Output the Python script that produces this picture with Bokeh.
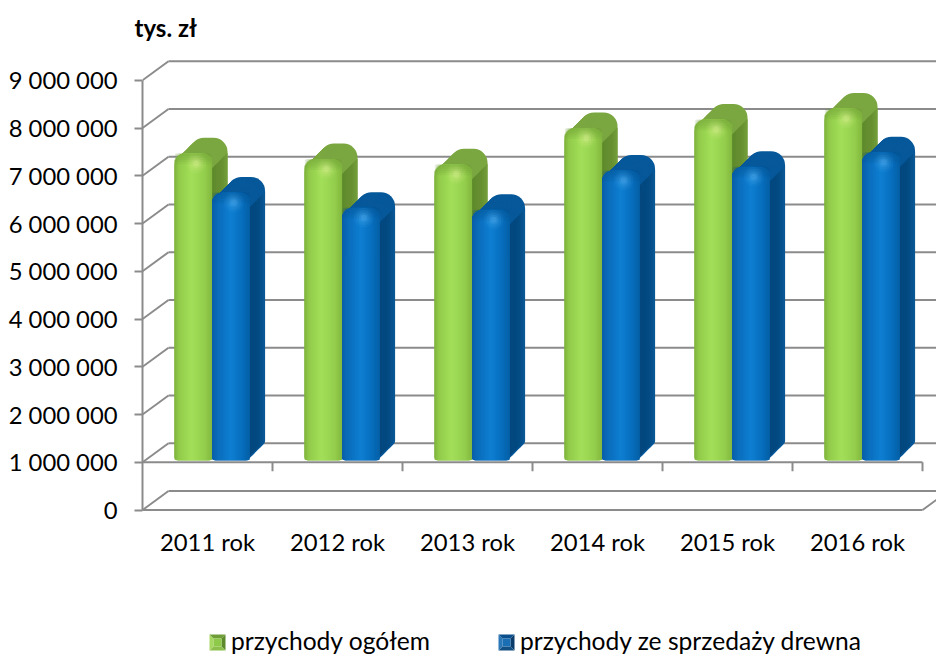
from bokeh.plotting import figure
from bokeh.models import Range1d, FixedTicker, Legend, LegendItem
from bokeh.embed import file_html
from bokeh.resources import INLINE

categories = ["2011 rok", "2012 rok", "2013 rok", "2014 rok", "2015 rok", "2016 rok"]
przychody_ogolem = [7470000, 7350000, 7240000, 8000000, 8180000, 8410000]
przychody_drewno = [6650000, 6330000, 6290000, 7110000, 7190000, 7490000]
y_ticks = [0, 1000000, 2000000, 3000000, 4000000, 5000000, 6000000, 7000000, 8000000, 9000000]
y_labels = ["0", "1 000 000", "2 000 000", "3 000 000", "4 000 000", "5 000 000",
            "6 000 000", "7 000 000", "8 000 000", "9 000 000"]
series_names = ["przychody ogółem", "przychody ze sprzedaży drewna"]
unit_label = "tys. zł"
axis_floor = 1000000

PX_X = 130.0            # px per category
PX_Y = 47.75 / 1e6      # px per value unit
FONT = "Lato"
GRID = "#8b8b8b"
DX, DY = 26 / PX_X, 19 / PX_Y   # wall depth
n_cat = len(categories)
base_value = axis_floor + 2 / PX_Y   # bars stand just above the floor line

W, H = 936, 655
TOP = 45
p = figure(width=W, height=H, output_backend="svg", toolbar_location=None,
           x_range=Range1d(0, (936 - 142) / PX_X),
           y_range=Range1d(-(655 - 509.5) / PX_Y, (509.5 - TOP) / PX_Y),
           min_border_left=142, min_border_right=0, min_border_top=TOP, min_border_bottom=0,
           background_fill_color=None, border_fill_color=None, outline_line_color=None)
p.grid.visible = False

p.title.text = unit_label
p.title.align = "left"
p.title.offset = -8
p.title.standoff = 7
p.title.text_font = FONT
p.title.text_font_style = "bold"
p.title.text_font_size = "24px"
p.title.text_color = "#000000"

ya = p.yaxis[0]
ya.ticker = FixedTicker(ticks=y_ticks)
ya.major_label_overrides = dict(zip(y_ticks, y_labels))
ya.bounds = (0, y_ticks[-1])
ya.axis_line_color = GRID
ya.axis_line_width = 2
ya.major_tick_line_color = GRID
ya.major_tick_line_width = 2
ya.major_tick_in = 0
ya.major_tick_out = 8
ya.minor_tick_line_color = None
ya.major_label_standoff = 17
ya.major_label_text_font = FONT
ya.major_label_text_font_size = "23.8px"
ya.major_label_text_color = "#000000"

xa = p.xaxis[0]
cat_pos = [i + 0.5 for i in range(n_cat)]
xa.ticker = FixedTicker(ticks=cat_pos)
xa.major_label_overrides = dict(zip(cat_pos, categories))
xa.fixed_location = 0
xa.axis_line_color = None
xa.major_tick_line_color = None
xa.minor_tick_line_color = None
xa.major_label_standoff = 12
xa.major_label_text_font = FONT
xa.major_label_text_font_size = "23.8px"
xa.major_label_text_color = "#000000"

# walls / grid
x_end = (936 - 142) / PX_X
p.segment([DX] * len(y_ticks), [v + DY for v in y_ticks], [x_end] * len(y_ticks), [v + DY for v in y_ticks],
          line_color=GRID, line_width=2)
p.segment([0] * len(y_ticks), y_ticks, [DX] * len(y_ticks), [v + DY for v in y_ticks],
          line_color=GRID, line_width=2)
p.segment([0, 0], [0, axis_floor], [n_cat, n_cat], [0, axis_floor], line_color=GRID, line_width=2)
p.segment([n_cat], [0], [n_cat + DX], [DY], line_color=GRID, line_width=2)
tick_x = list(range(1, n_cat + 1))
p.segment(tick_x, [axis_floor] * n_cat, tick_x, [axis_floor - 9 / PX_Y] * n_cat, line_color=GRID, line_width=2)


def hexrgb(c):
    return tuple(int(c[i:i + 2], 16) for i in (1, 3, 5))


def ramp(stops, u):
    for (u0, c0), (u1, c1) in zip(stops, stops[1:]):
        if u <= u1:
            t = (u - u0) / (u1 - u0) if u1 > u0 else 0
            a, b = hexrgb(c0), hexrgb(c1)
            return "#%02x%02x%02x" % tuple(round(a[i] + (b[i] - a[i]) * t) for i in range(3))
    return stops[-1][1]


BAR_W = 37.5
DEPTH = 15.5
R = 11.0
RB = 14.0
STYLES = [
    dict(top="#7ba741", bevel="#6f9e38", spot="#e4f59a",
         front=[(0, "#7fb33c"), (.12, "#92cc4a"), (.45, "#a3df59"), (.8, "#94cf4d"), (1, "#84b83f")],
         side=[(0, "#5f8a2d"), (.6, "#668f31"), (1, "#74a03a")]),
    dict(top="#06589a", bevel="#05548f", spot="#5ab4f2",
         front=[(0, "#0a5ea8"), (.15, "#0a6cba"), (.5, "#0f7fd2"), (.8, "#076ebd"), (1, "#0560a6")],
         side=[(0, "#03477e"), (.6, "#034a82"), (1, "#0a5a98")]),
]
OFFSET = [-BAR_W, 0.0]
legend_items = []

for s, values in enumerate([przychody_ogolem, przychody_drewno]):
    st = STYLES[s]
    # extruded rounded solid, back to front
    lx, lt, lb = [], [], []
    steps = 16
    for k in range(steps, -1, -1):
        t = k / steps * DEPTH
        for c, v in enumerate(values):
            lx.append(c + 0.535 + (OFFSET[s] + BAR_W / 2 + t) / PX_X)
            lt.append(v + t / PX_Y)
            lb.append(base_value + t / PX_Y)
    p.vbar(x=lx, top=lt, bottom=lb, width=BAR_W / PX_X, fill_color=st["top"], line_color=None,
           border_radius=(int(RB), int(RB), 4, 4))

    # side face strips
    xs, ys, cols = [], [], []
    n = 8
    for c, v in enumerate(values):
        xr = (OFFSET[s] + BAR_W) / PX_X + c + 0.535
        for i in range(n):
            a, b = i / n * DEPTH, min((i + 1.3) / n, 1) * DEPTH
            bb = 4.0
            xs.append([xr + a / PX_X, xr + b / PX_X, xr + b / PX_X, xr + a / PX_X])
            ys.append([base_value + (a + bb) / PX_Y, base_value + (b + bb) / PX_Y,
                       v + (b - RB - 1) / PX_Y, v + (a - RB - 1) / PX_Y])
            cols.append(ramp(st["side"], (i + .5) / n))
    p.patches(xs, ys, fill_color=cols, line_color=None)

    # front face: underlying bar plus horizontal gradient strips that follow the rounded top
    front_x = [c + 0.535 + (OFFSET[s] + BAR_W / 2) / PX_X for c in range(n_cat)]
    p.vbar(x=front_x, top=values, bottom=base_value, width=BAR_W / PX_X,
           fill_color=ramp(st["front"], 0), line_color=None, border_radius=(int(R), int(R), 3, 3))
    l, r, t, b, cols = [], [], [], [], []
    n = 38
    for c, v in enumerate(values):
        x0 = c + 0.535 + OFFSET[s] / PX_X
        for i in range(n):
            pa = i / n * BAR_W
            pb = BAR_W if i == n - 1 else (i + 1.8) / n * BAR_W
            mid = (i + 1) / n * BAR_W if i < n / 2 else i / n * BAR_W
            edge = min(mid, BAR_W - mid)
            drop = 0.0
            if edge < R:
                drop = R - (R ** 2 - (R - edge) ** 2) ** .5
            low = 3 - (9 - (3 - edge) ** 2) ** .5 if edge < 3 else 0
            l.append(x0 + pa / PX_X)
            r.append(x0 + pb / PX_X)
            t.append(v - drop / PX_Y)
            b.append(base_value + low / PX_Y)
            cols.append(ramp(st["front"], (i + .5) / n))
    p.quad(left=l, right=r, top=t, bottom=b, fill_color=cols, line_color=None)

    # bevel along the rounded top
    for k in range(1, 6):
        p.vbar(x=front_x, top=values, bottom=[v - 2.2 * k / PX_Y for v in values], width=BAR_W / PX_X,
               fill_color=st["bevel"], fill_alpha=0.13, line_color=None,
               border_radius=(int(R), int(R), 0, 0))
    # highlight
    for size, alpha in [(20, .08), (15, .12), (10, .18), (6, .25)]:
        p.scatter(x=[x + 3 / PX_X for x in front_x], y=[v - 10 / PX_Y for v in values], size=size,
                  marker="circle", fill_color=st["spot"], fill_alpha=alpha, line_color=None)
    # see-through renderer: the legend keeps its label, the bevelled key below shows through
    key_r = p.vbar(x=front_x, top=values, bottom=values, width=BAR_W / PX_X, fill_alpha=0, line_alpha=0)
    legend_items.append(LegendItem(label=series_names[s], renderers=[key_r]))


def dx(px):       # picture x -> data x
    return (px - 142) / PX_X


def dy(py):       # picture y -> data y
    return (509.5 - py) / PX_Y


# bevelled legend keys
BEVELS = [("#a7d862", "#6f9e38", "#5d8a2b", "#8dbf4b", "#8fc94a"),
          ("#2a78b8", "#0b4f8c", "#0c3c6a", "#124f82", "#1a6fb4")]
ICON_X = [209, 498]
ICON_Y = 634
ICON = 16
m = 4
bx, by, bc = [], [], []
for (cl, ct, cr, cb, cc), ix in zip(BEVELS, ICON_X):
    i0, i1, j0, j1 = ix, ix + ICON, ICON_Y, ICON_Y + ICON
    for c, px, py in [
        (cl, [i0, i0 + m, i0 + m, i0], [j0, j0 + m, j1 - m, j1]),
        (ct, [i0, i1, i1 - m, i0 + m], [j0, j0, j0 + m, j0 + m]),
        (cr, [i1, i1, i1 - m, i1 - m], [j0, j1, j1 - m, j0 + m]),
        (cb, [i0, i0 + m, i1 - m, i1], [j1, j1 - m, j1 - m, j1]),
        (cc, [i0 + m, i1 - m, i1 - m, i0 + m], [j0 + m, j0 + m, j1 - m, j1 - m]),
    ]:
        bx.append([dx(a) for a in px])
        by.append([dy(a) for a in py])
        bc.append(c)
p.patches(bx, by, fill_color=bc, line_color=None)

legend = Legend(items=legend_items, orientation="horizontal", location=(209 - 142, 0), margin=0, padding=0,
                spacing=68, label_standoff=6, glyph_width=16, glyph_height=16,
                label_text_font=FONT, label_text_font_size="24.6px", label_text_color="#000000",
                background_fill_alpha=0, border_line_color=None, label_height=22)
p.add_layout(legend, "center")

open("out.html", "w").write(file_html(p, INLINE))
